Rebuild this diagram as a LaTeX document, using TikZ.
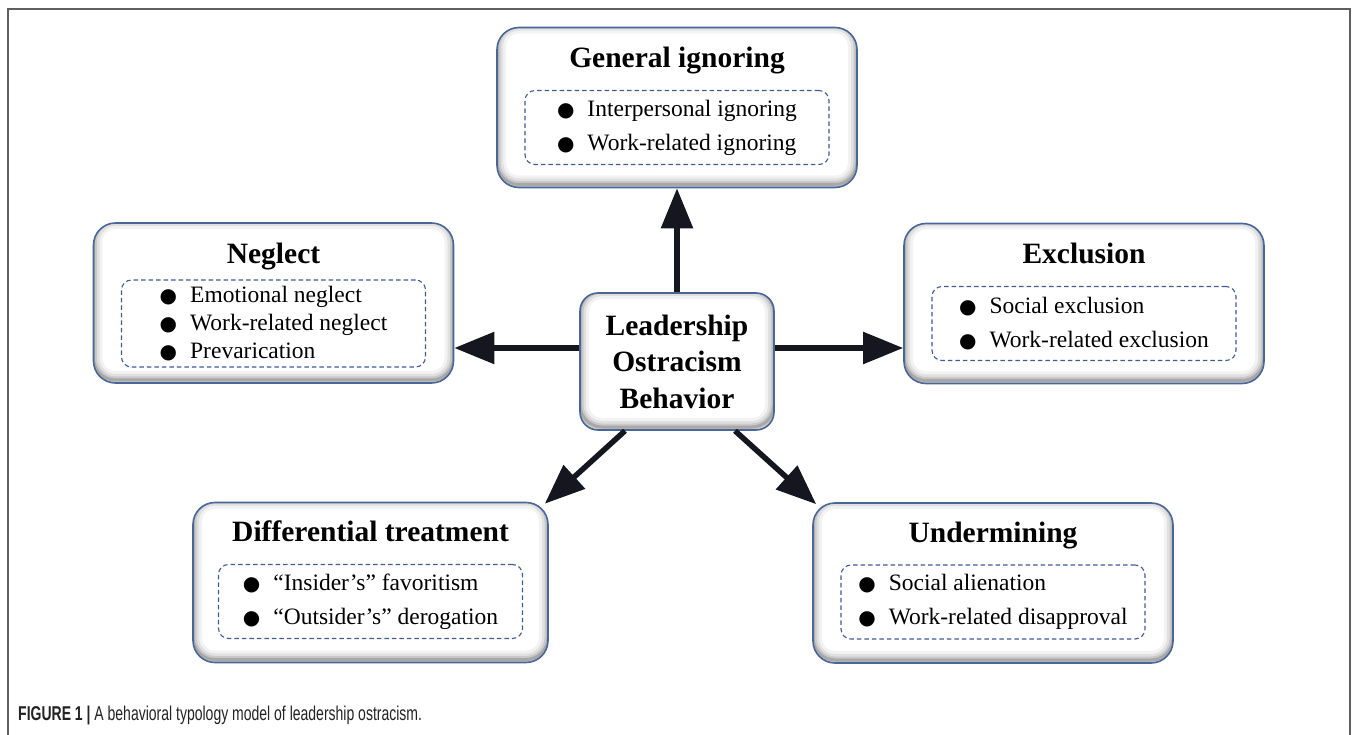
\documentclass[tikz,border=0pt]{standalone}
\usepackage{fontspec}
\setmainfont{Liberation Serif}
\newfontfamily\capfont[FakeStretch=0.7]{Liberation Sans}
\newfontfamily\dotfont{DejaVu Sans}
\usepackage{tikz}
\usetikzlibrary{arrows.meta, positioning, calc}
\usepackage{xcolor}
\definecolor{boxblue}{RGB}{72,102,152}
\definecolor{dashblue}{RGB}{62,92,150}
\definecolor{arrowink}{RGB}{22,22,32}
\definecolor{framegray}{RGB}{95,95,95}
\definecolor{capink}{RGB}{35,35,35}
\newcommand{\itm}[1]{{\dotfont\fontsize{20}{20}\selectfont ●}\hspace{13pt}#1}

\tikzset{
  catbox/.style={draw=boxblue, line width=1.6pt, fill=white, rounded corners=22pt,
    minimum width=360pt, minimum height=160pt, inner sep=0pt,
    path picture={
      \foreach \w/\o in {18/0.05, 12/0.07, 7/0.10, 3/0.16}
        \draw[black, opacity=\o, line width=\w pt, rounded corners=22pt]
          ([yshift=3pt]path picture bounding box.south west) rectangle
          ([yshift=3pt]path picture bounding box.north east);
    }},
  cattitle/.style={font=\bfseries\fontsize{29.5}{34}\selectfont, anchor=base, inner sep=0pt},
  itemlist/.style={draw=dashblue, line width=1.1pt, dash pattern=on 4.5pt off 3pt,
    rounded corners=10pt, minimum width=304pt, minimum height=74pt, inner sep=0pt,
    align=left, font=\fontsize{23.5}{34}\selectfont},
  pusharrow/.style={draw=arrowink, line width=5.5pt, -{Triangle[length=40pt, width=31pt]}},
}

\begin{document}
\begin{tikzpicture}[x=1pt, y=-1pt]
  \useasboundingbox (0,0) rectangle (1358,735);
  % frame
  \draw[framegray, line width=1.5pt] (8,735) -- (8,9) -- (1350,9) -- (1350,735);

  % centre
  \node[catbox, minimum width=194pt, minimum height=137pt, rounded corners=18pt,
        align=center, font=\bfseries\fontsize{29.5}{36.5}\selectfont] (ctr) at (677,361.5)
        {Leadership\\Ostracism\\Behavior};

  % general ignoring
  \node[catbox] (ign) at (677,107.5) {};
  \node[cattitle] (ignT) at ([yshift=-41pt]ign.north) {General ignoring};
  \node[itemlist] (ignL) at ([yshift=-20pt]ign.center)
        {\itm{Interpersonal ignoring}\\ \itm{Work-related ignoring}};

  % neglect
  \node[catbox] (neg) at (273.5,303) {};
  \node[cattitle] (negT) at ([yshift=-41pt]neg.north) {Neglect};
  \node[itemlist, minimum height=87pt, font=\fontsize{23.5}{28}\selectfont] (negL) at ([yshift=-20.5pt]neg.center)
        {\itm{Emotional neglect}\\ \itm{Work-related neglect}\\ \itm{Prevarication}};

  % exclusion
  \node[catbox] (exc) at (1084,303.5) {};
  \node[cattitle] (excT) at ([yshift=-41pt]exc.north) {Exclusion};
  \node[itemlist] (excL) at ([yshift=-20pt]exc.center)
        {\itm{Social exclusion}\\ \itm{Work-related exclusion}};

  % differential treatment
  \node[catbox, minimum width=355pt] (dif) at (370.5,582.5) {};
  \node[cattitle] (difT) at ([yshift=-40pt]dif.north) {Differential treatment};
  \node[itemlist] (difL) at ([yshift=-19pt]dif.center)
        {\itm{“Insider’s” favoritism}\\ \itm{“Outsider’s” derogation}};

  % undermining
  \node[catbox] (und) at (993,583) {};
  \node[cattitle] (undT) at ([yshift=-40pt]und.north) {Undermining};
  \node[itemlist] (undL) at ([yshift=-19pt]und.center)
        {\itm{Social alienation}\\ \itm{Work-related disapproval}};

  % arrows
  \coordinate (lj) at ([yshift=13.5pt]ctr.west);
  \coordinate (rj) at ([yshift=13.5pt]ctr.east);
  \draw[pusharrow] (ctr.north) -- (ign.south);
  \draw[pusharrow] (lj) -- (lj -| neg.east);
  \draw[pusharrow] (rj) -- (rj -| exc.west);
  \draw[pusharrow] ([xshift=-52pt]ctr.south) -- ([xshift=-4pt, yshift=-2pt]dif.north east);
  \draw[pusharrow] ([xshift=58pt]ctr.south) -- ([xshift=4pt, yshift=-2pt]und.north west);

  % caption
  \node[anchor=base west, inner sep=0pt, text=capink, font=\capfont\fontsize{20}{22}\selectfont] (cap) at (18,720)
        {\textbf{FIGURE 1 |} A behavioral typology model of leadership ostracism.};
\end{tikzpicture}
\end{document}
